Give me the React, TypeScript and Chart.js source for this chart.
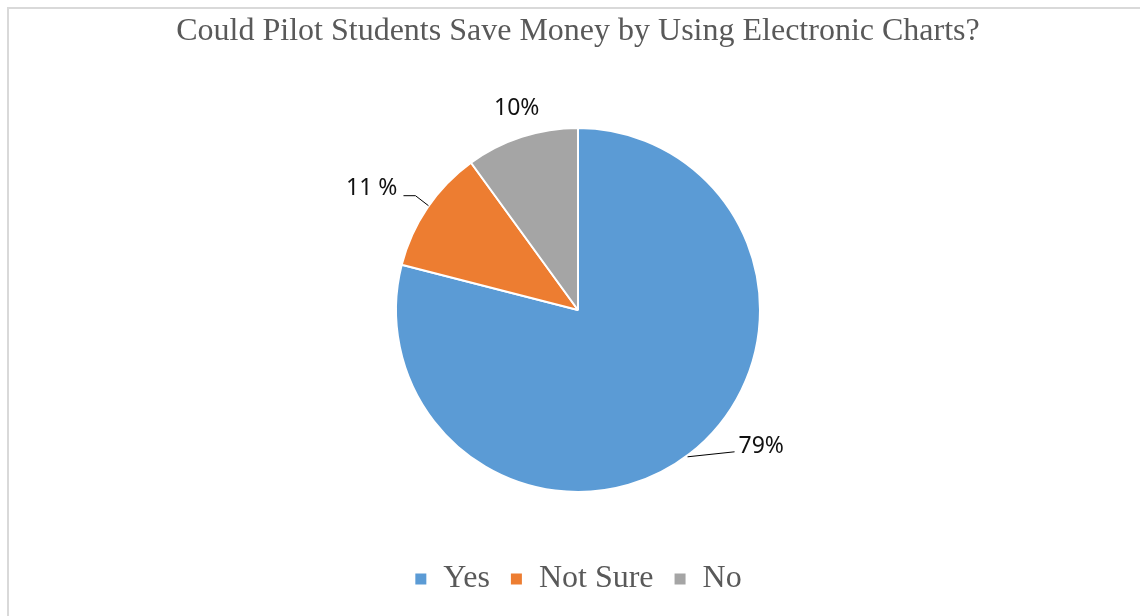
import React, { useEffect, useRef } from "react";
import { Chart, registerables } from "chart.js";

Chart.register(...registerables);

const TITLE = "Could Pilot Students Save Money by Using Electronic Charts?";
const categories = ["Yes", "Not Sure", "No"];
const values = [79, 11, 10];
const valueLabels = ["79%", "11 %", "10%"];
const colors = ["#5B9BD5", "#ED7D31", "#A5A5A5"];

// label placement relative to the slice's outer edge point at its mid-angle
const labelStyles = [
  { tx: 49, ty: -1, align: "left", leader: [[-2, 3], [45, -2]] },
  { tx: -30, ty: -12.5, align: "right", leader: [[1, -2], [-12, -12], [-24, -12]] },
  { tx: -5, ty: -22, align: "center", leader: null },
];

const labelPlugin = {
  id: "sliceLabels",
  afterDatasetsDraw(chart: any) {
    const ctx = chart.ctx;
    const meta = chart.getDatasetMeta(0);
    ctx.save();
    meta.data.forEach((arc: any, i: number) => {
      const { x, y, startAngle, endAngle, outerRadius } = arc.getProps(
        ["x", "y", "startAngle", "endAngle", "outerRadius"],
        true
      );
      const mid = (startAngle + endAngle) / 2;
      const px = x + Math.cos(mid) * outerRadius;
      const py = y + Math.sin(mid) * outerRadius;
      const st = labelStyles[i];
      if (st.leader) {
        ctx.beginPath();
        ctx.strokeStyle = "#000000";
        ctx.lineWidth = 1;
        st.leader.forEach((pt: number[], k: number) => {
          if (k === 0) ctx.moveTo(px + pt[0], py + pt[1]);
          else ctx.lineTo(px + pt[0], py + pt[1]);
        });
        ctx.stroke();
      }
      ctx.font = "23px 'Noto Sans'";
      ctx.fillStyle = "#111111";
      ctx.textAlign = st.align;
      ctx.textBaseline = "alphabetic";
      ctx.fillText(valueLabels[i], px + st.tx, py + st.ty);
    });
    ctx.restore();
  },
};

export default function App() {
  const ref = useRef<HTMLCanvasElement>(null);
  useEffect(() => {
    if (!ref.current) return;
    const chart = new Chart(ref.current, {
      type: "pie",
      data: {
        labels: categories,
        datasets: [
          {
            data: values,
            backgroundColor: colors,
            borderColor: "#ffffff",
            borderWidth: 2,
            radius: 182,
          } as any,
        ],
      },
      options: {
        responsive: false,
        animation: false,
        devicePixelRatio: 1,
        layout: { padding: { top: 12, left: 16, right: 0, bottom: 11 } },
        plugins: {
          title: {
            display: true,
            text: TITLE,
            color: "#595959",
            font: { family: "'Liberation Serif'", size: 32, weight: "normal" },
            padding: { top: 0, bottom: 26.6 },
          },
          legend: {
            position: "bottom",
            labels: {
              color: "#595959",
              font: { family: "'Liberation Serif'", size: 32 },
              boxWidth: 13,
              boxHeight: 13,
              padding: 20,
            },
          },
          tooltip: { enabled: false },
        },
      } as any,
      plugins: [labelPlugin],
    });
    return () => chart.destroy();
  }, []);
  return (
    <>
      <div
        style={{
          position: "fixed",
          left: 7,
          top: 7,
          width: 1200,
          height: 700,
          border: "2px solid #d9d9d9",
          background: "#ffffff",
        }}
      />
      <canvas
        ref={ref}
        width={1140}
        height={616}
        style={{ position: "fixed", left: 0, top: 0, width: 1140, height: 616 }}
      />
    </>
  );
}
